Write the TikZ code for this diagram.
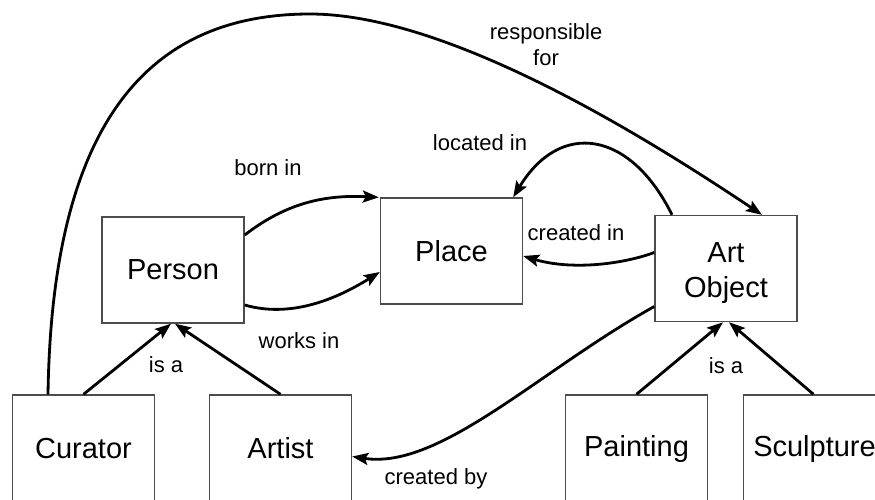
\documentclass[tikz,border=0pt]{standalone}
\usepackage{fontspec}
\setmainfont{Liberation Sans}
\usetikzlibrary{arrows.meta}
\begin{document}
\begin{tikzpicture}[x=1pt,y=-1pt,
  concept/.style={draw=black!70,line width=1.4pt,fill=white,inner sep=0pt,
    minimum width=142pt,minimum height=106pt,font=\fontsize{29}{35}\selectfont,
    align=center},
  rel/.style={line width=2.8pt,-{Stealth[length=16pt,width=12pt,inset=3pt]}},
  lbl/.style={font=\fontsize{22}{26}\selectfont,inner sep=0pt,align=center}]
\useasboundingbox (0,0) rectangle (875,499);
\clip (0,0) rectangle (875,499);
\fill[white] (0,0) rectangle (875,499);

% concept boxes
\node[concept] (person)    at (173,270)   {Person};
\node[concept] (place)     at (451.5,251) {Place};
\node[concept] (art)       at (726,268.5) {};
\node[font=\fontsize{29}{35}\selectfont,align=center,inner sep=0pt,yshift=-5pt]
  (arttext) at (art.center) {Art\\Object};
\node[concept,minimum height=107pt] (curator)   at (83.5,448.5)  {Curator};
\node[concept,minimum height=107pt] (artist)    at (280.5,448.5) {Artist};
\node[concept,minimum height=107pt] (painting)  at (636.5,448.5) {Painting};
\node[concept,minimum height=107pt] (sculpture) at (814.5,448.5) {Sculpture};

% relations
\draw[rel] ([xshift=-35.5pt]curator.north) .. controls (52,120) and (150,14) .. (310,14)
  .. controls (450,14) and (650,140) .. ([xshift=36pt]art.north);
\draw[rel] ([yshift=35pt]person.east) .. controls (290,200) and (330,195) .. ([xshift=-1pt]place.north west);
\draw[rel] ([yshift=-35pt]person.east) .. controls (290,318) and (335,300) .. ([yshift=-21pt]place.west);
\draw[rel] ([xshift=-54pt]art.north) .. controls (630,130) and (560,120) .. ([xshift=-10pt]place.north east);
\draw[rel] ([yshift=16pt]art.west) .. controls (620,265) and (570,270) .. ([yshift=-5pt]place.east);
\draw[rel] ([yshift=-38pt]art.west) .. controls (540,370) and (440,470) .. ([yshift=-8pt]artist.east);
\draw[rel] (curator.north) -- ([xshift=-2pt]person.south);
\draw[rel] (artist.north) -- ([xshift=2pt]person.south);
\draw[rel] (painting.north) -- ([xshift=-3pt]art.south);
\draw[rel] ([xshift=-1pt]sculpture.north) -- ([xshift=3pt]art.south);

% relation labels
\node[lbl] (lresp)  at (546,45)  {responsible\\for};
\node[lbl] (lborn)  at (268,168) {born in};
\node[lbl] (lloc)   at (480,143) {located in};
\node[lbl] (lcin)   at (576,233) {created in};
\node[lbl] (lworks) at (299,341) {works in};
\node[lbl] (lisa1)  at (166,365) {is a};
\node[lbl] (lisa2)  at (726,366) {is a};
\node[lbl] (lcby)   at (436,479) {created by};
\end{tikzpicture}
\end{document}
